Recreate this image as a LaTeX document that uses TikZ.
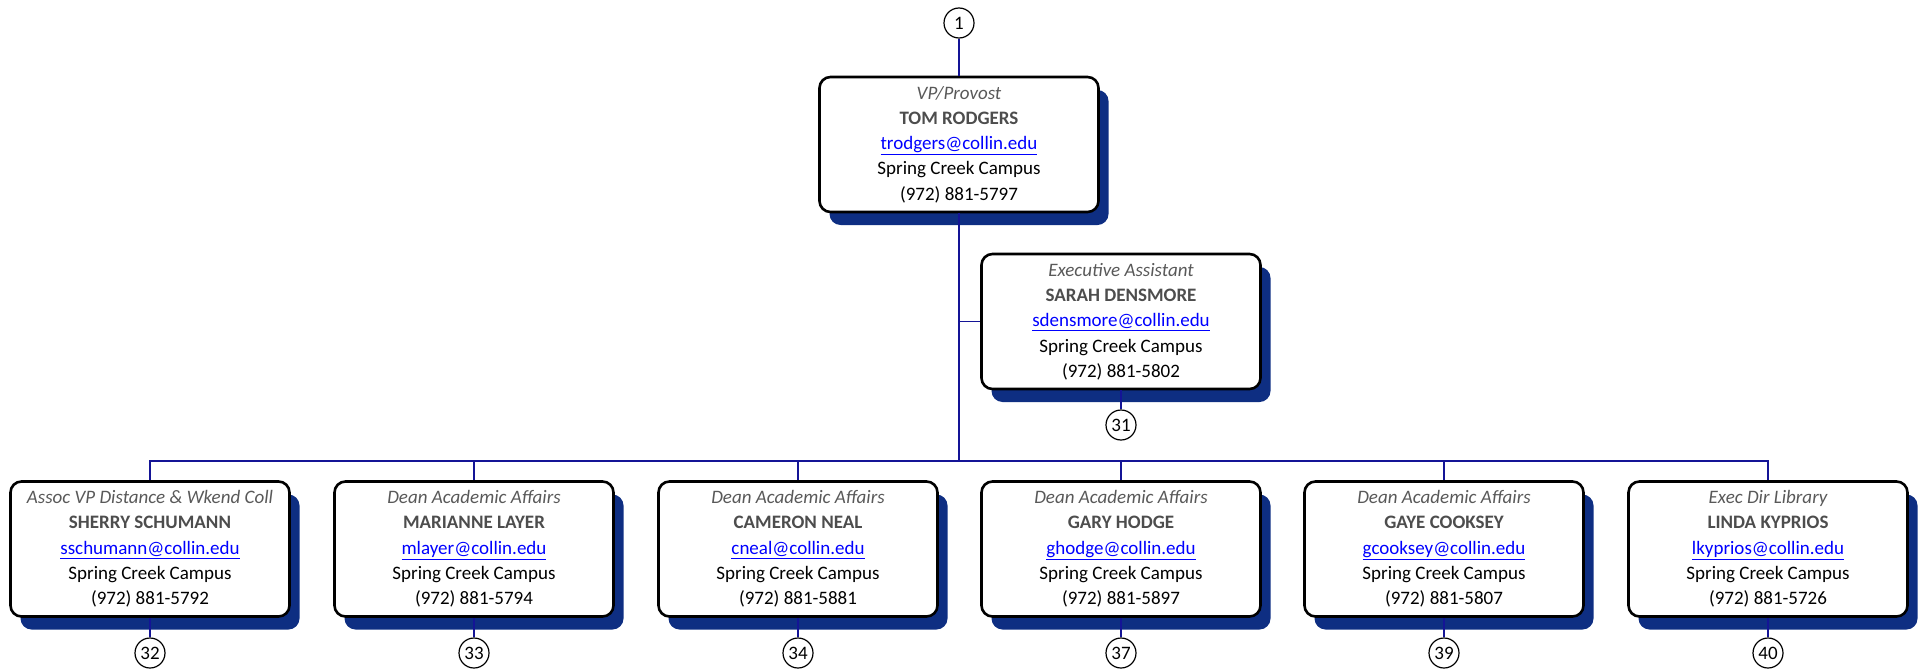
\documentclass[tikz,border=0pt]{standalone}
\usepackage{fontspec}
\setmainfont{Carlito}
\usetikzlibrary{shadows}
\definecolor{shadowblue}{RGB}{14,46,130}
\definecolor{linkblue}{RGB}{0,0,255}
\definecolor{titlegray}{RGB}{89,89,89}
\definecolor{namegray}{RGB}{77,77,77}
\definecolor{connblue}{RGB}{20,20,150}
\tikzset{
 person/.style={draw=black, line width=2.6pt, fill=white, rounded corners=11pt,
   minimum width=279pt, minimum height=135pt, align=center, inner sep=0pt,
   font=\fontsize{19}{25.3}\selectfont,
   general shadow={fill=shadowblue, shadow xshift=10pt, shadow yshift=-13pt}},
 num/.style={circle, draw=black, line width=1.2pt, fill=white, minimum size=30pt,
   inner sep=0pt, font=\fontsize{19}{19}\selectfont},
 conn/.style={draw=connblue, line width=1.4pt}
}
\newcommand{\pcard}[5]{{\color{titlegray}\itshape #1}\\{\color{namegray}\bfseries #2}\\{\color{linkblue}\underline{#3}}\\#4\\#5}
\begin{document}
\begin{tikzpicture}[x=1pt,y=-1pt]
\useasboundingbox (0,0) rectangle (1927,669);
\node[person] (vp) at (959,144.5) {\pcard{VP/Provost}{TOM RODGERS}{trodgers@collin.edu}{Spring Creek Campus}{(972) 881-5797}};
\node[person] (ea) at (1121,321.5) {\pcard{Executive Assistant}{SARAH DENSMORE}{sdensmore@collin.edu}{Spring Creek Campus}{(972) 881-5802}};
\node[person] (b1) at (150,549) {\pcard{Assoc VP Distance \& Wkend Coll}{SHERRY SCHUMANN}{sschumann@collin.edu}{Spring Creek Campus}{(972) 881-5792}};
\node[person] (b2) at (474,549) {\pcard{Dean Academic Affairs}{MARIANNE LAYER}{mlayer@collin.edu}{Spring Creek Campus}{(972) 881-5794}};
\node[person] (b3) at (798,549) {\pcard{Dean Academic Affairs}{CAMERON NEAL}{cneal@collin.edu}{Spring Creek Campus}{(972) 881-5881}};
\node[person] (b4) at (1121,549) {\pcard{Dean Academic Affairs}{GARY HODGE}{ghodge@collin.edu}{Spring Creek Campus}{(972) 881-5897}};
\node[person] (b5) at (1444,549) {\pcard{Dean Academic Affairs}{GAYE COOKSEY}{gcooksey@collin.edu}{Spring Creek Campus}{(972) 881-5807}};
\node[person] (b6) at (1768,549) {\pcard{Exec Dir Library}{LINDA KYPRIOS}{lkyprios@collin.edu}{Spring Creek Campus}{(972) 881-5726}};
\coordinate (bus) at (959,461);
\draw[conn] (vp.south) -- (bus);
\draw[conn] (ea.west) -- (ea.west -| vp.south);
\draw[conn] (b1.north) -- (b1.north |- bus) -- (b6.north |- bus) -- (b6.north);
\foreach \b in {b2,b3,b4,b5} \draw[conn] (\b.north) -- (\b.north |- bus);
\node[num] (c1) at (959,23) {1};
\draw[conn] (c1) -- (vp);
\node[num] (c31) at (1121,425) {31};
\draw[conn] (ea) -- (c31);
\node[num] (c32) at (150,653) {32};
\node[num] (c33) at (474,653) {33};
\node[num] (c34) at (798,653) {34};
\node[num] (c37) at (1121,653) {37};
\node[num] (c39) at (1444,653) {39};
\node[num] (c40) at (1768,653) {40};
\foreach \b/\c in {b1/c32,b2/c33,b3/c34,b4/c37,b5/c39,b6/c40} \draw[conn] (\b) -- (\c);
\end{tikzpicture}
\end{document}
